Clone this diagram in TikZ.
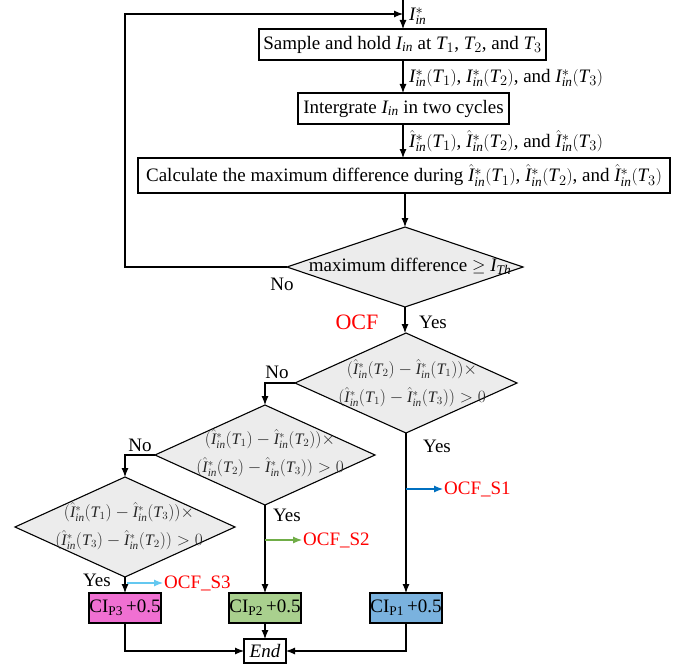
\documentclass[tikz,border=0pt]{standalone}
\usepackage{fontspec}
\setmainfont{Liberation Serif}
\usetikzlibrary{arrows.meta,shapes.geometric}

% italic math letters taken from the text font
\DeclareSymbolFont{timesit}{TU}{\rmdefault}{m}{it}
\DeclareMathSymbol{I}{\mathalpha}{timesit}{`I}
\DeclareMathSymbol{T}{\mathalpha}{timesit}{`T}
\DeclareMathSymbol{i}{\mathalpha}{timesit}{`i}
\DeclareMathSymbol{n}{\mathalpha}{timesit}{`n}
\DeclareMathSymbol{h}{\mathalpha}{timesit}{`h}

\definecolor{cimag}{RGB}{240,112,210}
\definecolor{cigreen}{RGB}{169,208,142}
\definecolor{ciblue}{RGB}{122,178,222}
\definecolor{sonecol}{RGB}{0,112,192}
\definecolor{stwocol}{RGB}{112,173,71}
\definecolor{sthreecol}{RGB}{100,200,240}

\begin{document}
\begin{tikzpicture}[x=1pt,y=-1pt,
    font=\fontsize{19}{21}\selectfont,
    procbox/.style={draw, line width=1.1pt, inner sep=0pt, outer sep=0pt},
    decbox/.style={diamond, draw, line width=1.1pt, fill=gray!15, inner sep=0pt, outer sep=0pt},
    dectext/.style={align=center, text=black!85, font=\fontsize{16}{28}\selectfont},
    flowarrow/.style={line width=1.1pt, -{Latex[length=9pt,width=7pt]}},
    ocflabel/.style={text=red, anchor=west, inner sep=1pt}]
      \useasboundingbox (0,0) rectangle (698,666);
      % process boxes
      \node[procbox, minimum width=287pt, minimum height=31pt] (sample) at (402.5,44.5) {Sample and hold $I_{in}$ at $T_1$, $T_2$, and $T_3$};
      \node[procbox, minimum width=211pt, minimum height=31pt] (integ) at (403.5,108.5) {Intergrate $I_{in}$ in two cycles};
      \node[procbox, minimum width=532pt, minimum height=35pt] (calc) at (404,175.5) {Calculate the maximum difference during $\hat{I}^*_{in}(T_1)$, $\hat{I}^*_{in}(T_2)$, and $\hat{I}^*_{in}(T_3)$};
      % decisions
      \node[decbox, minimum width=236pt, minimum height=80pt] (d1) at (405,267) {};
      \node (d1t) at (410,266) {maximum difference $\geq I_{Th}$};
      \node[decbox, minimum width=222pt, minimum height=100pt] (d2) at (406,383) {};
      \node[dectext] (d2t) at (412,383) {$(\hat{I}^*_{in}(T_2)-\hat{I}^*_{in}(T_1))\times$\\$(\hat{I}^*_{in}(T_1)-\hat{I}^*_{in}(T_3))>0$};
      \node[decbox, minimum width=220pt, minimum height=100pt] (d3) at (265,455) {};
      \node[dectext] (d3t) at (270,453) {$(\hat{I}^*_{in}(T_1)-\hat{I}^*_{in}(T_2))\times$\\$(\hat{I}^*_{in}(T_2)-\hat{I}^*_{in}(T_3))>0$};
      \node[decbox, minimum width=220pt, minimum height=100pt] (d4) at (125,527) {};
      \node[dectext] (d4t) at (129,526) {$(\hat{I}^*_{in}(T_1)-\hat{I}^*_{in}(T_3))\times$\\$(\hat{I}^*_{in}(T_3)-\hat{I}^*_{in}(T_2))>0$};
      % results
      \node[procbox, fill=cimag, minimum width=72pt, minimum height=30pt] (p3) at (125,608) {CI\textsubscript{P3}\,+0.5};
      \node[procbox, fill=cigreen, minimum width=72pt, minimum height=30pt] (p2) at (265,608) {CI\textsubscript{P2}\,+0.5};
      \node[procbox, fill=ciblue, minimum width=72pt, minimum height=30pt] (p1) at (406,608) {CI\textsubscript{P1}\,+0.5};
      \node[procbox, minimum width=42pt, minimum height=24pt] (end) at (265,651) {\textit{End}};
      % labels
      \node[anchor=west, inner sep=0pt] (lin) at (409,16) {$I^*_{in}$};
      \node[anchor=west, inner sep=0pt] (lone) at (409,78) {$I^*_{in}(T_1)$, $I^*_{in}(T_2)$, and $I^*_{in}(T_3)$};
      \node[anchor=west, inner sep=0pt] (ltwo) at (409,141) {$\hat{I}^*_{in}(T_1)$, $\hat{I}^*_{in}(T_2)$, and $\hat{I}^*_{in}(T_3)$};
      \node (noone) at (282,284) {No};
      \node[text=red, font=\fontsize{22}{24}\selectfont] (ocf) at (357,322) {OCF};
      \node (yesone) at (433,322) {Yes};
      \node (notwo) at (277,372) {No};
      \node (yestwo) at (437,446) {Yes};
      \node (nothree) at (140,445) {No};
      \node (yesthree) at (287,515) {Yes};
      \node (yesfour) at (97,580) {Yes};
      \node[ocflabel] (sone) at (443,489) {OCF\_S1};
      \node[ocflabel] (stwo) at (302,540) {OCF\_S2};
      \node[ocflabel] (sthree) at (163,583) {OCF\_S3};
      % connectors
      \coordinate (top) at (403,0);
      \coordinate (join) at (403,14);
      \coordinate (fbk) at (125,14);
      \draw[flowarrow] (top) -- (top |- sample.north);
      \draw[flowarrow] (d1.west) -- (d1.west -| fbk) -- (fbk) -- (join);
      \draw[flowarrow] (sample.south -| top) -- (top |- integ.north);
      \draw[flowarrow] (integ.south -| top) -- (top |- calc.north);
      \draw[flowarrow] (calc.south -| d1) -- (d1.north);
      \draw[flowarrow] (d1.south) -- (d1.south |- d2.north);
      \draw[flowarrow] (d2.west) -| (d3.north);
      \draw[flowarrow] (d3.west) -| (d4.north);
      \draw[flowarrow] (d2.south) -- (p1.north);
      \draw[flowarrow] (d3.south) -- (p2.north);
      \draw[flowarrow] (d4.south) -- (p3.north);
      \draw[flowarrow] (p2.south) -- (end.north);
      \draw[flowarrow] (p3.south) |- (end.west);
      \draw[flowarrow] (p1.south) |- (end.east);
      \coordinate (bone) at (406,489);
      \coordinate (btwo) at (265,540);
      \coordinate (bthree) at (127,583);
      \draw[flowarrow, sonecol] (bone) -- (sone.west);
      \draw[flowarrow, stwocol] (btwo) -- (stwo.west);
      \draw[flowarrow, sthreecol] (bthree) -- (sthree.west);
\end{tikzpicture}
\end{document}
